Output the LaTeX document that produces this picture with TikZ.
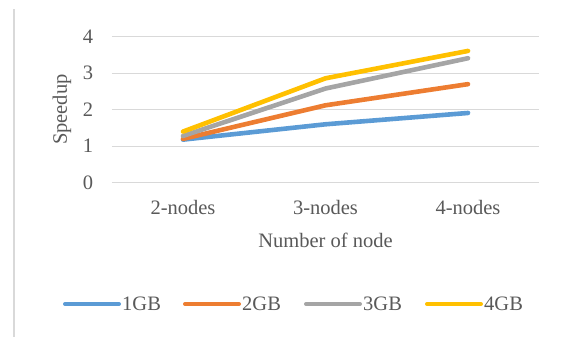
\documentclass[tikz,border=0pt]{standalone}
\usepackage{fontspec}
\setmainfont{Liberation Serif}
\usetikzlibrary{positioning}
\definecolor{serA}{HTML}{5B9BD5}
\definecolor{serB}{HTML}{ED7D31}
\definecolor{serC}{HTML}{A5A5A5}
\definecolor{serD}{HTML}{FFC000}
\definecolor{txtgray}{HTML}{595959}
\definecolor{gridgray}{HTML}{D9D9D9}

\begin{document}
\begin{tikzpicture}[x=1pt,y=1pt,line cap=round,line join=round,
  lbl/.style={text=txtgray,font=\fontsize{20.5}{24}\selectfont,inner sep=0pt},
  series/.style={line width=4.6pt}]
\useasboundingbox (0,0) rectangle (565,337);
\draw[line width=2pt,color=gridgray,line cap=butt] (14,0) -- (14,328);
\begin{scope}[shift={(40.5,154.3)},x=142.5pt,y=36.5pt]
\foreach \y in {0,...,4}{
\draw[gridgray,line width=1.3pt,line cap=butt] (0.5,\y) -- (3.5,\y);
\node[lbl,anchor=east] (yt\y) at (0.37,\y) {\y};}
\foreach \i/\n in {1/2,2/3,3/4}
\node[lbl] (xt\i) at (\i,-0.69) {\n-nodes};
\node[lbl] (xtitle) at (2,-1.57) {Number of node};
\node[lbl,rotate=90] (ytitle) at (0.151,2) {Speedup};

% data points
\coordinate (a1) at (1,1.18); \coordinate (a2) at (2,1.6);  \coordinate (a3) at (3,1.91);
\coordinate (b1) at (1,1.2);  \coordinate (b2) at (2,2.12); \coordinate (b3) at (3,2.7);
\coordinate (c1) at (1,1.28); \coordinate (c2) at (2,2.58); \coordinate (c3) at (3,3.41);
\coordinate (d1) at (1,1.4);  \coordinate (d2) at (2,2.86); \coordinate (d3) at (3,3.61);
\draw[series,serA] (a1) -- (a2) -- (a3);
\draw[series,serB] (b1) -- (b2) -- (b3);
\draw[series,serC] (c1) -- (c2) -- (c3);
\draw[series,serD] (d1) -- (d2) -- (d3);
\end{scope}

% legend
\foreach \c/\t/\x in {serA/1GB/65,serB/2GB/185,serC/3GB/306,serD/4GB/427}{
\coordinate (l\t) at (\x,33);
\coordinate (r\t) at (\x+54,33);
\draw[line width=4pt,\c] (l\t) -- (r\t);
\node[lbl,anchor=west,right=3pt of r\t] (n\t) {\t};}
\end{tikzpicture}
\end{document}
